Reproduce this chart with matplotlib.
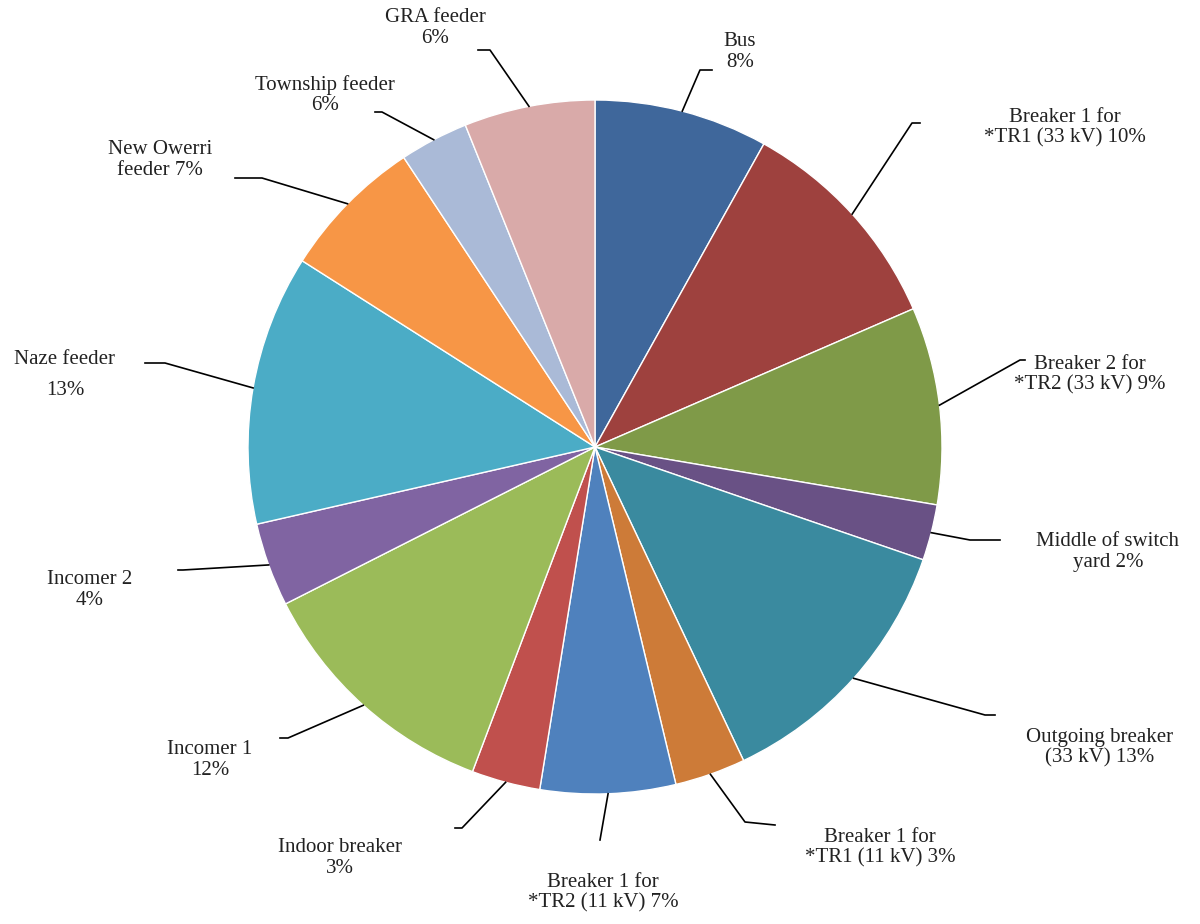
import numpy as np
import matplotlib
matplotlib.use('Agg')
import matplotlib.pyplot as plt

labels = ['Bus\n8%', 'Breaker 1 for\n*TR1 (33 kV) 10%', 'Breaker 2 for\n*TR2 (33 kV) 9%',
          'Middle of switch\nyard 2%', 'Outgoing breaker\n(33 kV) 13%', 'Breaker 1 for\n*TR1 (11 kV) 3%',
          'Breaker 1 for\n*TR2 (11 kV) 7%', 'Indoor breaker\n3%', 'Incomer 1\n12%', 'Incomer 2\n4%',
          'Naze feeder\n13%', 'New Owerri\nfeeder 7%', 'Township feeder\n6%', 'GRA feeder\n6%']
# slice sizes (angles), labels keep the original percentages
sizes = [8.1, 10.4, 9.2, 2.6, 12.7, 3.3, 6.3, 3.2, 11.8, 3.9, 12.6, 6.7, 3.2, 6.1]
colors = ['#3F679B', '#9E413E', '#7F9A48', '#695185', '#3A8A9F', '#CD7B38', '#4F81BD',
          '#C0504D', '#9BBB59', '#8064A2', '#4BACC6', '#F79646', '#AABAD7', '#D9AAA9']

# label placement in pixel coords: text centre, elbow, line end
text_pos = [(740, 52), (1065, 128), (1090, 375), (1108, 552), (1100, 748), (880, 848),
            (603, 893), (340, 858), (210, 760), (90, 590), (65, 375), (160, 160), (325, 95), (435, 28)]
elbows = [(700, 70), (912, 123), (1020, 360), (970, 540), (985, 715), (745, 822),
          (600, 840), (462, 828), (288, 738), (183, 570), (165, 363), (262, 178), (382, 112), (490, 50)]
ends = [(712, 70), (920, 123), (1025, 360), (1000, 540), (995, 715), (775, 825),
        (600, 840), (455, 828), (280, 738), (178, 570), (145, 363), (235, 178), (375, 112), (478, 50)]

H = 924
cx, cy, r = 595, H - 447, 347

fig = plt.figure(figsize=(12, 9.24), dpi=100)
ax = fig.add_axes([0, 0, 1, 1])
ax.set_xlim(0, 1200)
ax.set_ylim(0, H)
ax.set_aspect('equal')
ax.axis('off')

ax.pie(sizes, colors=colors, startangle=90, counterclock=False, radius=r, center=(cx, cy),
       wedgeprops=dict(linewidth=1, edgecolor='white'), frame=True)
ax.set_xlim(0, 1200)
ax.set_ylim(0, H)
ax.axis('off')

total = sum(sizes)
cum = 0
for i, lab in enumerate(labels):
    mid = 90 - 360 * (cum + sizes[i] / 2) / total
    cum += sizes[i]
    ex = cx + r * np.cos(np.radians(mid))
    ey = cy + r * np.sin(np.radians(mid))
    bx, by = elbows[i]
    qx, qy = ends[i]
    ax.plot([ex, bx, qx], [ey, H - by, H - qy], color='black', lw=1.2, clip_on=False)
    tx, ty = text_pos[i]
    ls = 1.9 if i == 10 else 1.1
    ax.text(tx, H - ty, lab, ha='center', va='center', fontsize=15,
            family='Liberation Serif', color='#222222', linespacing=ls)

plt.savefig('out.png', dpi=100)
